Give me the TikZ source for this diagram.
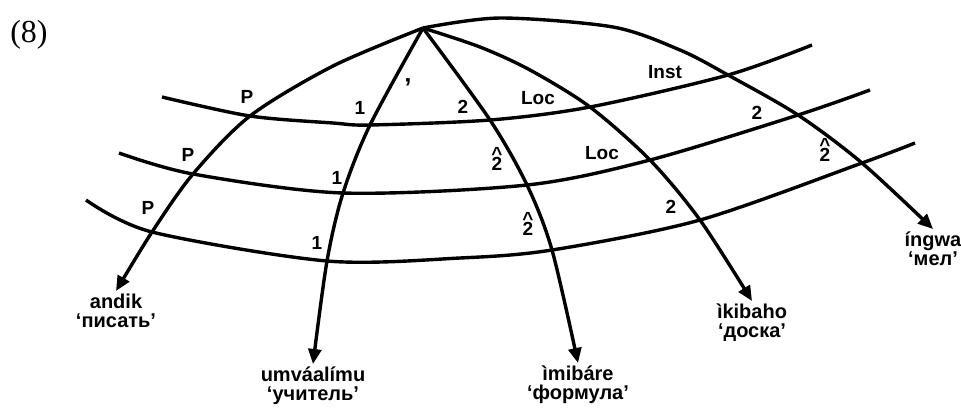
\documentclass[tikz,border=0pt]{standalone}
\usepackage{fontspec}
\setmainfont{Liberation Sans}
\newfontfamily\numfont{Liberation Serif}
\usetikzlibrary{arrows.meta}
\tikzset{
  lab/.style={font=\bfseries\fontsize{19}{19}\selectfont, inner sep=0pt},
  word/.style={font=\bfseries\fontsize{20}{19}\selectfont, align=center, anchor=north, inner sep=3pt},
  arc/.style={line width=3.4pt, -{Triangle[length=15pt,width=13pt]}},
  band/.style={line width=3.4pt},
}
\newcommand{\hattwo}{\ooalign{2\cr\hidewidth\raisebox{10.5pt}{\textasciicircum}\hidewidth\cr}}
\begin{document}
\begin{tikzpicture}[x=1pt,y=-1pt]
	\useasboundingbox (0,0) rectangle (961,408);
	\node[font=\numfont\fontsize{32}{32}\selectfont] (num) at (29,35) {(8)};
	% top
	\coordinate (r) at (423,28);
	% crossings, arc by arc
	\coordinate (a1) at (250,116);
	\coordinate (a2) at (193,174);
	\coordinate (a3) at (152,232);
	\coordinate (b1) at (370,125);
	\coordinate (b2) at (343,193);
	\coordinate (b3) at (327,261);
	\coordinate (c1) at (490,120);
	\coordinate (c2) at (527,185);
	\coordinate (c3) at (552,250);
	\coordinate (d1) at (590,107);
	\coordinate (d2) at (650,160);
	\coordinate (d3) at (700,220);
	\coordinate (e1) at (728,75);
	\coordinate (e2) at (798,115);
	\coordinate (e3) at (862,163);
	% words
	\node[word] (andik) at (116,291) {andik\\‘писать’};
	\node[word] (umv) at (313,364) {umváalímu\\‘учитель’};
	\node[word] (imib) at (578,363) {ìmibáre\\‘формула’};
	\node[word] (ikib) at (752,301) {ìkibaho\\‘доска’};
	\node[word] (ingwa) at (933,229) {íngwa\\‘мел’};
	% the three bands
	\draw[band] plot[smooth] coordinates {(162,97) (a1) (333,123) (b1) (c1) (d1) (e1) (812,45)};
	\draw[band] plot[smooth] coordinates {(119,153) (a2) (b2) (c2) (d2) (e2) (870,90)};
	\draw[band] plot[smooth] coordinates {(86,200) (a3) (b3) (460,258) (c3) (d3) (e3) (915,143)};
	% the arcs
	\draw[arc] plot[smooth] coordinates {(r) (333,66) (a1) (a2) (a3) (andik.north)};
	\draw[arc] plot[smooth] coordinates {(r) (b1) (b2) (b3) (umv.north)};
	\draw[arc] plot[smooth] coordinates {(r) (c1) (c2) (c3) (imib.north)};
	\draw[arc] plot[smooth] coordinates {(r) (480,47) (530,70) (d1) (d2) (d3) (ikib.north)};
	\draw[arc] plot[smooth] coordinates {(r) (500,18) (613,27) (680,50) (e1) (e2) (e3) (ingwa.north)};
	% labels
	\node[lab] (pa) at (247,97) {P};
	\node[lab] (pb) at (188,155) {P};
	\node[lab] (pc) at (148,208) {P};
	\node[lab] (oa) at (360,108) {1};
	\node[lab] (ob) at (337,178) {1};
	\node[lab] (oc) at (317,243) {1};
	\node[lab, font=\bfseries\fontsize{26}{26}\selectfont] (tick) at (408,88) {’};
	\node[lab] (ta) at (463,107) {2};
	\node[lab] (tb) at (497,164) {\hattwo};
	\node[lab] (tc) at (528,229) {\hattwo};
	\node[lab] (la) at (538,98) {Loc};
	\node[lab] (lb) at (602,153) {Loc};
	\node[lab] (lc) at (671,207) {2};
	\node[lab] (ia) at (665,72) {Inst};
	\node[lab] (ib) at (757,113) {2};
	\node[lab] (ic) at (825,155) {\hattwo};
\end{tikzpicture}
\end{document}
